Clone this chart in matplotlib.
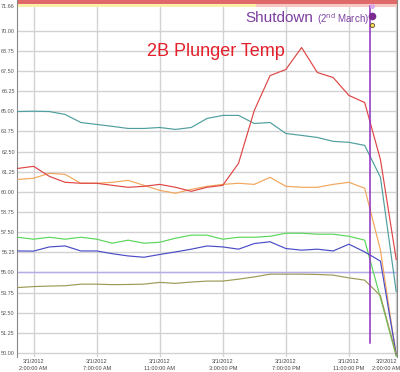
import matplotlib
matplotlib.use('Agg')
import matplotlib.pyplot as plt
import matplotlib.transforms as mtransforms
import numpy as np

plt.rcParams['font.family'] = ['Liberation Sans', 'DejaVu Sans']

# ── DATA ──────────────────────────────────────────────
# hours since midnight 3/1/2012, one sample per hour
hours = list(range(2, 27))

teal   = [64.98, 65.00, 64.98, 64.80, 64.30, 64.18, 64.06, 63.93, 63.93, 63.99, 63.87, 63.99,
          64.55, 64.74, 64.74, 64.24, 64.30, 63.62, 63.50, 63.37, 63.13, 63.07, 62.88, 60.90, 53.80]
red    = [61.45, 61.58, 60.96, 60.59, 60.53, 60.53, 60.40, 60.28, 60.34, 60.46, 60.28, 60.03,
          60.28, 60.40, 61.77, 65.05, 67.21, 67.59, 68.95, 67.40, 67.09, 65.98, 65.54, 62.00, 55.80]
orange = [60.77, 60.84, 61.15, 61.08, 60.53, 60.53, 60.59, 60.71, 60.40, 60.09, 59.91, 60.15,
          60.34, 60.46, 60.53, 60.46, 60.90, 60.34, 60.28, 60.28, 60.46, 60.59, 60.22, 56.38, 49.85]
green  = [57.18, 57.06, 57.18, 57.06, 57.18, 57.06, 56.81, 57.00, 56.81, 56.87, 57.12, 57.31,
          57.31, 57.06, 57.18, 57.18, 57.24, 57.43, 57.43, 57.37, 57.37, 57.24, 57.00, 53.41, 49.80]
blue   = [56.33, 56.32, 56.58, 56.64, 56.33, 56.33, 56.16, 56.02, 55.94, 56.11, 56.27, 56.44,
          56.64, 56.58, 56.44, 56.79, 56.90, 56.48, 56.38, 56.44, 56.33, 56.75, 56.27, 55.70, 49.90]
olive  = [54.06, 54.12, 54.15, 54.17, 54.27, 54.27, 54.24, 54.25, 54.27, 54.38, 54.32, 54.40,
          54.46, 54.46, 54.58, 54.72, 54.89, 54.89, 54.89, 54.87, 54.83, 54.66, 54.52, 53.55, 49.90]

limit_line = 55.00
shutdown_hour = 24.33

y_ticks = [50.00, 51.25, 52.50, 53.75, 55.00, 56.25, 57.50, 58.75, 60.00,
           61.25, 62.50, 63.75, 65.00, 66.25, 67.50, 68.75, 70.00, 71.66]
x_ticks = [3, 7, 11, 15, 19, 23, 26]
x_labels = ['3/1/2012\n2:00:00 AM', '3/1/2012\n7:00:00 AM', '3/1/2012\n11:00:00 AM',
            '3/1/2012\n3:00:00 PM', '3/1/2012\n7:00:00 PM', '3/1/2012\n11:00:00 PM',
            '3/2/2012\n2:00:00 AM']

# ── COLORS ────────────────────────────────────────────
colors = {
    'teal'  : '#4f9e9e',
    'red'   : '#e04545',
    'orange': '#f2a65a',
    'green' : '#5ad65a',
    'blue'  : '#4b4bc8',
    'olive' : '#9c9a55',
    'purple': '#8e2fc0',
}

fig = plt.figure(figsize=(4.0, 3.72), dpi=100)
ax = fig.add_axes([0.0425, 0.0403, 0.9500, 0.9597])

# grid
for yv in y_ticks[:-1]:
    ax.axhline(yv, color='#d2d2d2', linewidth=1.0, zorder=0)
for xv in x_ticks:
    ax.axvline(xv, color='#d2d2d2', linewidth=1.0, zorder=0)
ax.axhline(limit_line, color='#b4aee8', linewidth=1.0, zorder=0)

# status bands along the top
ax.axhspan(71.66, 71.90, color='#e06a6a', linewidth=0, zorder=1)
ax.axhspan(71.48, 71.66, color='#f6c9c4', linewidth=0, zorder=1)
ax.axhspan(71.48, 71.66, xmin=0, xmax=0.63, color='#fbf0a8', linewidth=0, zorder=1)

# series
ax.plot(hours, teal,   color=colors['teal'],   linewidth=0.85, zorder=3)
ax.plot(hours, orange, color=colors['orange'], linewidth=0.85, zorder=3)
ax.plot(hours, red,    color=colors['red'],    linewidth=0.85, zorder=3)
ax.plot(hours, green,  color=colors['green'],  linewidth=0.85, zorder=3)
ax.plot(hours, blue,   color=colors['blue'],   linewidth=0.85, zorder=3)
ax.plot(hours, olive,  color=colors['olive'],  linewidth=0.85, zorder=3)

# shutdown marker
ax.plot([shutdown_hour, shutdown_hour], [50.6, 71.5], color=colors['purple'], linewidth=1.1, zorder=4)
ax.plot(shutdown_hour + 0.12, 71.52, 'o', color='#d9a8e8', markersize=2.5, zorder=5)
ax.plot(shutdown_hour + 0.12, 70.93, 'o', color='#7a2a90', markersize=4.5, zorder=5)
ax.plot(shutdown_hour + 0.15, 70.37, 'o', color='#f2e060', markeredgecolor='#6a4a20',
        markersize=3, markeredgewidth=0.6, zorder=5)

small = ax.text(shutdown_hour - 0.05, 70.45, '(2$^{\\mathrm{nd}}$ March)', ha='right', va='baseline',
                fontsize=7, color='#7b3fa0', zorder=6)
ax.annotate('Shutdown', xy=(0, 0.12), xycoords=small, xytext=(-2.5, 0), textcoords='offset points',
            ha='right', va='bottom', fontsize=11, color='#7b3fa0', zorder=6)

ax.text(14.55, 68.7, '2B Plunger Temp', ha='center', va='center',
        fontsize=13, color='#e3202b', zorder=6)

ax.text(-0.075, 0.968, '°C', transform=ax.transAxes, fontsize=3.5, color='#555555')

# axes
ax.set_xlim(1.95, 26.05)
ax.set_ylim(49.75, 71.9)
ax.set_yticks(y_ticks)
ax.set_yticklabels([f'{v:.2f}' for v in y_ticks], fontsize=4, color='#555555')
ax.set_xticks(x_ticks)
ax.set_xticklabels(x_labels, fontsize=4, color='#444444', linespacing=1.4)
ax.tick_params(axis='both', length=0, pad=1.5)
for side in ['top', 'bottom']:
    ax.spines[side].set_visible(False)
ax.spines['left'].set_color('#888888')
ax.spines['right'].set_color('#888888')

# nudge edge labels inward a little, as in the original
last = ax.get_xticklabels()[-1]
last.set_transform(last.get_transform() + mtransforms.ScaledTranslation(-0.1, 0, fig.dpi_scale_trans))
top = ax.get_yticklabels()[-1]
top.set_transform(top.get_transform() + mtransforms.ScaledTranslation(0, -0.025, fig.dpi_scale_trans))

fig.savefig('out.png', dpi=100)
